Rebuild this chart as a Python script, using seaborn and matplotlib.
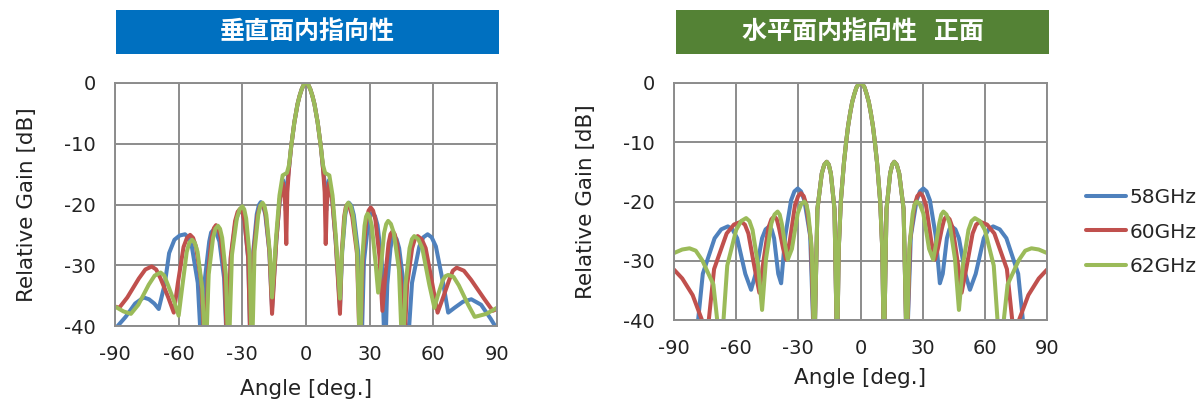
import numpy as np
import pandas as pd
import matplotlib
matplotlib.use("Agg")
import matplotlib.pyplot as plt
import seaborn as sns
from matplotlib.patches import Rectangle
from matplotlib.lines import Line2D

FREQS = ["58GHz", "60GHz", "62GHz"]
COLORS = ["#4F81BD", "#C0504D", "#9BBB59"]
TITLES = ["垂直面内指向性", "水平面内指向性   正面"]
TITLE_COLORS = ["#0070C0", "#548235"]
X_TICKS = [-90, -60, -30, 0, 30, 60, 90]
Y_TICKS = [-40, -30, -20, -10, 0]

# vertical plane: (angle [deg], relative gain [dB])
v58 = [(-90, -40.5), (-85, -38.5), (-80.5, -36.3), (-76.5, -35.3), (-74, -35.6), (-71.5, -36.3),
       (-69.4, -37.2), (-66.5, -33), (-64.5, -28), (-62, -25.8), (-59.5, -25.1), (-57, -24.9),
       (-55.3, -25.5), (-53.8, -26.9), (-51, -32.9), (-49, -46), (-47.6, -32.1), (-45.6, -26.1),
       (-44.7, -24.6), (-43.4, -24.1), (-42.3, -24.6), (-40.8, -26.1), (-38.6, -32.1), (-37, -46),
       (-35.45, -29), (-33.3, -23), (-32, -21.5), (-30.8, -21), (-29.8, -21.5), (-28.9, -23),
       (-27.2, -29), (-26, -46), (-24.8, -27.6), (-23.2, -21.6), (-22.2, -20.1), (-21.3, -19.6),
       (-20.3, -20.1), (-19.2, -21.6), (-17.3, -27.6), (-16, -37), (-14, -26), (-12.3, -19),
       (-10.8, -16), (-10, -18), (-9.5, -21), (-9, -17), (-8, -14), (-7, -10.5), (-5.5, -6.5),
       (-4, -3.5), (-3, -2.1), (-2, -1), (-1, -0.25), (0, 0), (1, -0.25), (2, -1), (3, -2.1),
       (4, -3.5), (5.5, -6.5), (7, -10.5), (8, -14), (9, -17), (9.5, -21), (10, -18), (10.8, -16),
       (12.3, -19), (14, -26), (16, -37), (17.05, -27.7), (18.5, -21.7), (19.4, -20.2),
       (20.2, -19.7), (21.4, -20.2), (22.5, -21.7), (24.55, -27.7), (26, -46), (27.3, -29.4),
       (29.2, -23.4), (30.2, -21.9), (31.3, -21.4), (32.5, -21.9), (33.7, -23.4), (35.7, -29.4),
       (37.2, -46), (38.3, -33.2), (39.8, -27.2), (40.6, -25.7), (41.5, -25.2), (42.7, -25.7),
       (43.9, -27.2), (46, -33.2), (47.5, -46), (49.95, -32.9), (53.4, -26.9), (55.3, -25.4),
       (57.3, -24.9), (59.2, -25.4), (61.2, -26.9), (64.6, -32.9), (67, -37.8), (70, -37),
       (74, -36), (77.9, -35.6), (82.5, -36.5), (87, -38.8), (90, -40.5)]

v60 = [(-90, -36.8), (-88, -37), (-84.2, -35.3), (-78.8, -32.2), (-75.7, -30.7), (-72.7, -30.2),
       (-70.6, -30.7), (-68.5, -32.2), (-64.9, -35.3), (-62.3, -37.8), (-60.4, -33), (-57.7, -27),
       (-56.1, -25.5), (-54.6, -25), (-53.2, -25.5), (-51.8, -27), (-49.3, -33), (-47.5, -46),
       (-46.2, -31.4), (-44.4, -25.4), (-43.4, -23.9), (-42.4, -23.4), (-41.3, -23.9),
       (-40.2, -25.4), (-38.35, -31.4), (-37, -46), (-35.5, -28.7), (-33.4, -22.7), (-32.2, -21.2),
       (-31, -20.7), (-30, -21.2), (-29, -22.7), (-27.25, -28.7), (-26, -46), (-24.7, -27.9),
       (-22.9, -21.9), (-21.8, -20.4), (-20.8, -19.9), (-19.8, -20.4), (-18.9, -21.9),
       (-17.2, -27.9), (-16, -38), (-14, -26), (-12.3, -19), (-10.8, -16.5), (-9.8, -20),
       (-9.3, -26.5), (-8.8, -18), (-8, -14), (-7, -10.5), (-5.5, -6.5), (-4, -3.5), (-3, -2.1),
       (-2, -1), (-1, -0.25), (0, 0), (1, -0.25), (2, -1), (3, -2.1), (4, -3.5), (5.5, -6.5),
       (7, -10.5), (8, -14), (8.8, -18), (9.3, -26.5), (9.8, -20), (10.8, -16.5), (12.3, -19),
       (14, -26), (16, -38), (16.85, -28), (18, -22), (18.7, -20.5), (19.4, -20), (20.6, -20.5),
       (21.8, -22), (24, -28), (25.5, -46), (26.75, -28.5), (28.5, -22.5), (29.5, -21),
       (30.5, -20.5), (31.6, -21), (32.7, -22.5), (34.6, -28.5), (36, -37.5), (37.2, -32.4),
       (38.9, -26.4), (39.8, -24.9), (40.8, -24.4), (41.8, -24.9), (42.9, -26.4), (44.7, -32.4),
       (46, -46), (47.65, -33.2), (50, -27.2), (51.3, -25.7), (52.6, -25.2), (54.5, -25.7),
       (56.4, -27.2), (59.6, -33.2), (62, -37.8), (64.4, -35.5), (67.5, -32.4), (69.2, -30.9),
       (71, -30.4), (74.4, -30.9), (77.8, -32.4), (83.9, -35.5), (88, -37.5), (90, -37.2)]

v62 = [(-90, -36.8), (-86, -37.6), (-82.5, -38), (-79, -36.5), (-74.1, -33.2), (-71.3, -31.7),
       (-68.5, -31.2), (-66.8, -31.7), (-65.1, -33.2), (-62.1, -36), (-60, -38.3), (-58.4, -33.8),
       (-56.2, -27.8), (-55, -26.3), (-53.7, -25.8), (-52.4, -26.3), (-51.1, -27.8),
       (-48.9, -33.8), (-47.3, -46), (-45.85, -31.5), (-43.8, -25.5), (-42.7, -24),
       (-41.5, -23.5), (-40.5, -24), (-39.5, -25.5), (-37.75, -31.5), (-36.5, -46),
       (-34.9, -28.3), (-32.6, -22.3), (-31.3, -20.8), (-30, -20.3), (-29.1, -20.8),
       (-28.2, -22.3), (-26.6, -28.3), (-25.5, -46), (-24.25, -27.7), (-22.5, -21.7),
       (-21.5, -20.2), (-20.5, -19.7), (-19.6, -20.2), (-18.7, -21.7), (-17.1, -27.7),
       (-16, -35.3), (-14, -25), (-12.5, -18.5), (-11, -15.2), (-9, -14.8), (-8, -13.5),
       (-7, -10.5), (-5.5, -6.5), (-4, -3.5), (-3, -2.1), (-2, -1), (-1, -0.25), (0, 0),
       (1, -0.25), (2, -1), (3, -2.1), (4, -3.5), (5.5, -6.5), (7, -10.5), (8, -13.5),
       (9, -14.8), (11, -15.2), (12.5, -18.5), (14, -25), (16, -35.5), (17, -27.7), (18.3, -21.7),
       (19.1, -20.2), (19.9, -19.7), (21, -20.2), (22.1, -21.7), (24.1, -27.7), (25.5, -46),
       (26.4, -29.5), (27.6, -23.5), (28.3, -22), (29, -21.5), (30, -22), (31, -23.5),
       (32.75, -29.5), (34, -34.5), (35.2, -30.7), (36.8, -24.7), (37.8, -23.2), (38.7, -22.7),
       (40, -23.2), (41.4, -24.7), (43.8, -30.7), (45.5, -46), (46.9, -33.2), (48.8, -27.2),
       (49.9, -25.7), (51, -25.2), (52.9, -25.7), (54.8, -27.2), (58.1, -33.2), (60.5, -37),
       (62.1, -35), (64.4, -32.5), (65.7, -31.8), (67, -31.6), (69.5, -31.9), (72, -33.3),
       (76.4, -36.5), (79.5, -38.5), (85, -38), (90, -37)]

# horizontal plane: main lobe and first sidelobes are common to all three
h_core = [(-20.8, -21.3), (-18.7, -15.3), (-17.5, -13.8), (-16.3, -13.3), (-15.3, -13.8),
          (-14.3, -15.3), (-12.55, -21.3), (-11.3, -46), (-10.5, -28), (-9.5, -20), (-8, -13.5),
          (-7, -10.2), (-6, -7.3), (-5, -5.1), (-4, -3.2), (-3, -1.9), (-2, -0.8), (-1, -0.2),
          (0, 0), (1, -0.2), (2, -0.8), (3, -1.9), (4, -3.2), (5, -5.1), (6, -7.3), (7, -10.2),
          (8, -13.5), (9.5, -20), (10.5, -28), (11.3, -46), (12.55, -21.3), (14.3, -15.3),
          (15.3, -13.8), (16.3, -13.3), (17.5, -13.8), (18.7, -15.3), (20.8, -21.3)]

h58_left = [(-90, -46), (-80.1, -46), (-76.1, -32.2), (-70.4, -26.2), (-67.2, -24.7), (-64, -24.2),
            (-61.8, -24.7), (-59.5, -26.2), (-55.6, -32.2), (-52.8, -34.9), (-50.6, -32.2),
            (-47.5, -26.2), (-45.8, -24.7), (-44, -24.2), (-42.9, -24.7), (-41.7, -26.2),
            (-39.7, -32.2), (-38.3, -33.8), (-36.3, -25.8), (-33.5, -19.8), (-31.9, -18.3),
            (-30.3, -17.8), (-28.7, -18.3), (-27.1, -19.8), (-24.3, -25.8), (-22.3, -46)]
h58_right = [(22.3, -46), (24.3, -25.8), (27.1, -19.8), (28.7, -18.3), (30.3, -17.8), (31.9, -18.3),
             (33.5, -19.8), (36.3, -25.8), (38.3, -33.8), (39.7, -32.2), (41.7, -26.2),
             (42.9, -24.7), (44, -24.2), (45.8, -24.7), (47.5, -26.2), (50.6, -32.2), (52.8, -34.9),
             (55.6, -32.2), (59.5, -26.2), (61.8, -24.7), (64, -24.2), (67.2, -24.7), (70.4, -26.2),
             (76.1, -32.2), (80.1, -46), (90, -46)]

h60_left = [(-90, -31.5), (-86, -33), (-81, -35.8), (-76.5, -40), (-75, -46), (-70.65, -31.4),
            (-64.6, -25.4), (-61.1, -23.9), (-57.6, -23.4), (-55.8, -23.9), (-54.1, -25.4),
            (-51, -31.4), (-48.8, -35.4), (-47, -30.5), (-44.5, -24.5), (-43, -23), (-41.6, -22.5),
            (-40.4, -23), (-39.3, -24.5), (-37.3, -28), (-35.9, -29.8), (-34.1, -26.6),
            (-31.6, -20.6), (-30.1, -19.1), (-28.7, -18.6), (-27.4, -19.1), (-26.1, -20.6),
            (-23.9, -26.6), (-22.3, -46)]
h60_right = [(22.3, -46), (23.9, -26.6), (26.1, -20.6), (27.4, -19.1), (28.7, -18.6), (30.1, -19.1),
             (31.6, -20.6), (34.1, -26.6), (35.9, -29.8), (37.3, -28), (39.3, -24.5), (40.4, -23),
             (41.6, -22.5), (43, -23), (44.5, -24.5), (47, -30.5), (48.8, -35.4), (51, -31.4),
             (54.1, -25.4), (55.8, -23.9), (57.6, -23.4), (61.1, -23.9), (64.6, -25.4),
             (70.65, -31.4), (75, -46), (76.5, -40), (81, -35.8), (86, -33), (90, -31.5)]

h62_left = [(-90, -28.7), (-86, -28.1), (-82.5, -27.9), (-79.5, -28.3), (-76.4, -29.9), (-71, -34),
            (-67.3, -46), (-64.3, -30.8), (-60, -24.8), (-57.6, -23.3), (-55.2, -22.8),
            (-53.6, -23.3), (-52.1, -24.8), (-49.4, -30.8), (-47.5, -38.3), (-45.6, -29.7),
            (-43, -23.7), (-41.5, -22.2), (-40, -21.7), (-39, -22.2), (-38, -23.7), (-36.3, -27.5),
            (-35.1, -29.8), (-33.1, -28), (-30.3, -22), (-28.7, -20.5), (-27.1, -20),
            (-26.1, -20.5), (-25.2, -22), (-23.5, -28), (-22.3, -46)]
h62_right = [(22.3, -46), (23.5, -28), (25.2, -22), (26.1, -20.5), (27.1, -20), (28.7, -20.5),
             (30.3, -22), (33.1, -28), (35.1, -29.8), (36.3, -27.5), (38, -23.7), (39, -22.2),
             (40, -21.7), (41.5, -22.2), (43, -23.7), (45.6, -29.7), (47.5, -38.3), (49.4, -30.8),
             (52.1, -24.8), (53.6, -23.3), (55.2, -22.8), (57.6, -23.3), (60, -24.8), (64.3, -30.8),
             (67.3, -46), (71, -34), (76.4, -29.9), (79.5, -28.3), (82.5, -27.9), (86, -28.1),
             (90, -28.7)]

h58 = h58_left + h_core + h58_right
h60 = h60_left + h_core + h60_right
h62 = h62_left + h_core + h62_right


def to_frame(series):
    parts = []
    for label, pts in zip(FREQS, series):
        arr = np.array(pts)
        parts.append(pd.DataFrame({"angle": arr[:, 0], "gain": arr[:, 1], "freq": label}))
    return pd.concat(parts, ignore_index=True)


sns.set_theme(style="white")
plt.rcParams["font.family"] = ["DejaVu Sans", "Noto Sans CJK JP"]
plt.rcParams["axes.unicode_minus"] = False

fig = plt.figure(figsize=(12, 4.01), dpi=100)
ax_v = fig.add_axes([115 / 1200, 75 / 401, 382 / 1200, 243 / 401])
ax_h = fig.add_axes([674 / 1200, 81 / 401, 373 / 1200, 237 / 401])

palette = dict(zip(FREQS, COLORS))
grid_c = "#8c8c8c"

for ax, data, lab_x, lab_y in [(ax_v, [v58, v60, v62], -0.205, -0.218),
                               (ax_h, [h58, h60, h62], -0.208, -0.203)]:
    df = to_frame(data)
    sns.lineplot(data=df, x="angle", y="gain", hue="freq", palette=palette,
                 estimator=None, sort=False, linewidth=2.9, legend=False, ax=ax,
                 solid_joinstyle="round")
    ax.set_xlim(-90, 90)
    ax.set_ylim(-40, 0)
    ax.set_xticks(X_TICKS)
    ax.set_yticks(Y_TICKS)
    ax.grid(True, color=grid_c, linewidth=1.4)
    ax.set_axisbelow(True)
    for sp in ax.spines.values():
        sp.set_color(grid_c)
        sp.set_linewidth(1.4)
    ax.tick_params(length=0, pad=14, labelsize=14, colors="#222222")
    ax.set_xlabel("Angle [deg.]", fontsize=15.5, color="#222222")
    ax.set_ylabel("Relative Gain [dB]", fontsize=15.5, color="#222222")
    ax.xaxis.set_label_coords(0.5, lab_y)
    ax.yaxis.set_label_coords(lab_x, 0.5)

# title boxes
for (x0, x1), title, col in [((116, 499), TITLES[0], TITLE_COLORS[0]),
                              ((676, 1049), TITLES[1], TITLE_COLORS[1])]:
    fig.add_artist(Rectangle((x0 / 1200, 1 - 54 / 401), (x1 - x0) / 1200, 44 / 401,
                             transform=fig.transFigure, facecolor=col, edgecolor="none"))
    fig.text((x0 + x1) / 2400, 1 - 32 / 401, title, ha="center", va="center",
             color="white", fontsize=18, fontweight="bold",
             family=["Noto Sans CJK JP", "DejaVu Sans"])

handles = [Line2D([], [], color=c, linewidth=2.9) for c in COLORS]
fig.legend(handles, FREQS, loc="center left", bbox_to_anchor=(1076 / 1200, 1 - 232 / 401),
           frameon=False, fontsize=14.5, handlelength=2.0, handletextpad=0.15,
           labelspacing=0.75, borderpad=0)

fig.savefig("out.png", dpi=100, facecolor="white")
